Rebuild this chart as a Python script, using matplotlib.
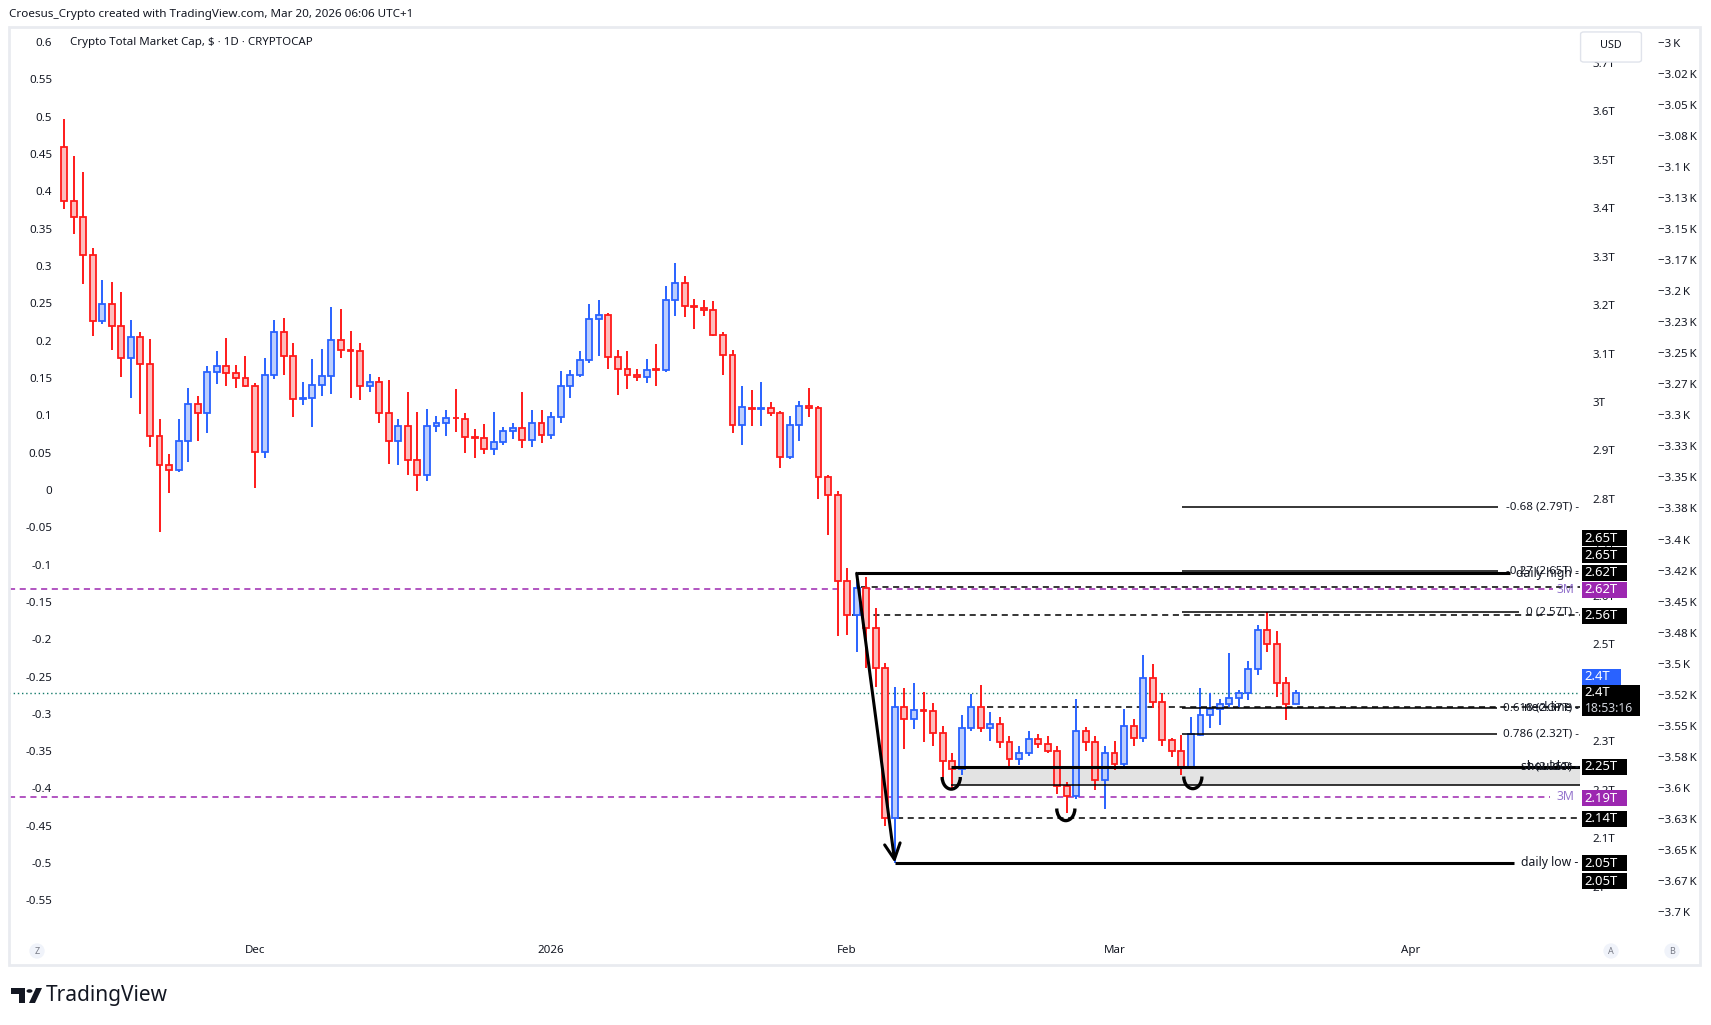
import matplotlib
matplotlib.use("Agg")
import matplotlib.pyplot as plt
import matplotlib.dates as mdates
import matplotlib.transforms as mtransforms
from matplotlib.patches import Rectangle, Arc, FancyBboxPatch, Polygon, Circle
import numpy as np
import pandas as pd

plt.rcParams["font.family"] = ["Noto Sans", "DejaVu Sans"]

# daily candles, Crypto Total Market Cap in trillions USD
dates = pd.date_range("2025-11-11", "2026-03-20", freq="D")
opens = [3.526, 3.414, 3.381, 3.303, 3.167, 3.202, 3.156, 3.090, 3.135, 3.078,
         2.929, 2.869, 2.859, 2.919, 2.995, 2.977, 3.061, 3.074, 3.059, 3.049,
         3.034, 2.896, 3.055, 3.144, 3.094, 3.006, 3.008, 3.035, 3.053, 3.129,
         3.107, 3.105, 3.032, 3.041, 2.977, 2.919, 2.950, 2.880, 2.849, 2.950,
         2.956, 2.967, 2.964, 2.928, 2.925, 2.902, 2.917, 2.941, 2.946, 2.921,
         2.956, 2.931, 2.970, 3.032, 3.055, 3.086, 3.171, 3.179, 3.092, 3.069,
         3.055, 3.051, 3.068, 3.067, 3.210, 3.245, 3.198, 3.195, 3.189, 3.138,
         3.096, 2.952, 2.988, 2.986, 2.987, 2.977, 2.886, 2.952, 2.992, 2.987,
         2.845, 2.809, 2.630, 2.560, 2.617, 2.533, 2.452, 2.141, 2.370, 2.345,
         2.364, 2.362, 2.316, 2.260, 2.242, 2.327, 2.370, 2.327, 2.336, 2.298,
         2.264, 2.276, 2.305, 2.295, 2.280, 2.208, 2.186, 2.321, 2.298, 2.219,
         2.276, 2.253, 2.332, 2.307, 2.430, 2.380, 2.302, 2.279, 2.247, 2.313,
         2.353, 2.366, 2.376, 2.390, 2.399, 2.448, 2.529, 2.500, 2.419, 2.376]
highs = [3.585, 3.508, 3.475, 3.317, 3.252, 3.248, 3.227, 3.169, 3.144, 3.130,
         2.965, 2.893, 2.965, 3.029, 3.012, 3.074, 3.105, 3.132, 3.076, 3.095,
         3.039, 3.091, 3.169, 3.173, 3.122, 3.041, 3.089, 3.109, 3.196, 3.192,
         3.147, 3.122, 3.058, 3.052, 3.045, 2.964, 3.021, 2.979, 2.986, 2.971,
         2.984, 3.027, 2.977, 2.944, 2.955, 2.979, 2.948, 2.957, 3.021, 2.983,
         2.983, 2.979, 3.064, 3.066, 3.105, 3.202, 3.210, 3.184, 3.107, 3.105,
         3.068, 3.089, 3.120, 3.239, 3.287, 3.260, 3.213, 3.211, 3.208, 3.145,
         3.107, 3.033, 3.025, 3.041, 3.000, 2.981, 2.971, 3.002, 3.029, 2.992,
         2.849, 2.816, 2.657, 2.647, 2.639, 2.574, 2.461, 2.412, 2.410, 2.420,
         2.401, 2.379, 2.332, 2.275, 2.355, 2.397, 2.415, 2.360, 2.350, 2.310,
         2.290, 2.320, 2.315, 2.310, 2.290, 2.215, 2.386, 2.330, 2.310, 2.290,
         2.300, 2.366, 2.345, 2.478, 2.459, 2.399, 2.306, 2.313, 2.350, 2.409,
         2.399, 2.387, 2.481, 2.406, 2.465, 2.540, 2.566, 2.527, 2.433, 2.406]
lows = [3.399, 3.347, 3.244, 3.137, 3.161, 3.108, 3.052, 3.009, 2.976, 2.908,
        2.732, 2.813, 2.856, 2.877, 2.920, 2.935, 3.038, 3.034, 3.028, 3.030,
        2.823, 2.885, 3.048, 3.056, 2.970, 2.993, 2.949, 3.012, 3.017, 3.090,
        3.009, 3.004, 3.020, 2.957, 2.873, 2.871, 2.849, 2.816, 2.836, 2.939,
        2.929, 2.939, 2.895, 2.885, 2.893, 2.890, 2.912, 2.924, 2.906, 2.908,
        2.916, 2.924, 2.957, 3.009, 3.052, 3.081, 3.094, 3.069, 3.015, 3.027,
        3.044, 3.040, 3.034, 3.061, 3.178, 3.176, 3.151, 3.178, 3.136, 3.056,
        2.937, 2.912, 2.951, 2.951, 2.972, 2.864, 2.883, 2.920, 2.970, 2.800,
        2.726, 2.518, 2.520, 2.485, 2.450, 2.411, 2.124, 2.048, 2.283, 2.326,
        2.299, 2.289, 2.226, 2.204, 2.231, 2.320, 2.318, 2.300, 2.285, 2.242,
        2.250, 2.270, 2.285, 2.275, 2.190, 2.152, 2.180, 2.280, 2.200, 2.159,
        2.240, 2.245, 2.290, 2.298, 2.369, 2.289, 2.268, 2.230, 2.242, 2.311,
        2.328, 2.333, 2.370, 2.370, 2.385, 2.437, 2.483, 2.392, 2.344, 2.376]
closes = [3.414, 3.381, 3.303, 3.167, 3.202, 3.156, 3.090, 3.135, 3.078, 2.929,
          2.869, 2.859, 2.919, 2.995, 2.977, 3.061, 3.074, 3.059, 3.049, 3.034,
          2.896, 3.055, 3.144, 3.094, 3.006, 3.008, 3.035, 3.053, 3.129, 3.107,
          3.106, 3.032, 3.041, 2.977, 2.919, 2.950, 2.880, 2.849, 2.950, 2.956,
          2.966, 2.966, 2.927, 2.926, 2.902, 2.917, 2.941, 2.946, 2.921, 2.956,
          2.931, 2.970, 3.032, 3.055, 3.086, 3.171, 3.179, 3.092, 3.069, 3.055,
          3.051, 3.067, 3.067, 3.210, 3.245, 3.198, 3.196, 3.189, 3.138, 3.096,
          2.952, 2.989, 2.985, 2.987, 2.977, 2.886, 2.952, 2.991, 2.987, 2.845,
          2.809, 2.630, 2.560, 2.617, 2.533, 2.452, 2.141, 2.370, 2.345, 2.364,
          2.362, 2.316, 2.260, 2.242, 2.327, 2.370, 2.327, 2.336, 2.298, 2.264,
          2.276, 2.305, 2.295, 2.280, 2.208, 2.186, 2.321, 2.298, 2.219, 2.276,
          2.253, 2.332, 2.307, 2.430, 2.380, 2.302, 2.279, 2.247, 2.314, 2.353,
          2.366, 2.376, 2.390, 2.399, 2.448, 2.529, 2.500, 2.419, 2.376, 2.399]

# drawn levels
daily_high = 2.6464
daily_low = 2.0491
fib_prices = [2.783, 2.651, 2.566, 2.368, 2.314]
fib_labels = ["-0.68 (2.79T) -", "-0.27 (2.65T) -", "0 (2.57T) -",
              "0.618 (2.37T) -", "0.786 (2.32T) -"]
fib_end = [150.2, 150.2, 152.4, 150.1, 150.0]
m3_levels = [2.6135, 2.185]
shoulder_top, shoulder_bottom = 2.2473, 2.2095
neckline = 2.370
dashed_levels = [2.6176, 2.5597, 2.1407]
dashed_start = [83.5, 82.5, 87.2]
last_price = 2.3988
smiles = [(92.9, 2.226), (104.9, 2.161), (118.2, 2.227)]

tag_prices = [2.719, 2.684, 2.648, 2.612, 2.559, 2.247, 2.182, 2.140, 2.048, 2.011]
tag_texts = ["2.65T", "2.65T", "2.62T", "2.62T", "2.56T", "2.25T", "2.19T",
             "2.14T", "2.05T", "2.05T"]
tag_colors = ["k", "k", "k", "#9c27b0", "k", "k", "#9c27b0", "k", "k", "k"]

mid_ticks = [2.0, 2.1, 2.2, 2.3, 2.4, 2.5, 2.6, 2.7, 2.8, 2.9, 3.0,
             3.1, 3.2, 3.3, 3.4, 3.5, 3.6, 3.7]
mid_labels = ["2T", "2.1T", "2.2T", "2.3T", "2.4T", "2.5T", "2.6T", "2.7T", "2.8T",
              "2.9T", "3T", "3.1T", "3.2T", "3.3T", "3.4T", "3.5T", "3.6T", "3.7T"]
left_ticks = [0.6, 0.55, 0.5, 0.45, 0.4, 0.35, 0.3, 0.25, 0.2, 0.15, 0.1, 0.05, 0,
              -0.05, -0.1, -0.15, -0.2, -0.25, -0.3, -0.35, -0.4, -0.45, -0.5, -0.55]
left_labels = ["0.6", "0.55", "0.5", "0.45", "0.4", "0.35", "0.3", "0.25", "0.2",
               "0.15", "0.1", "0.05", "0", "-0.05", "-0.1", "-0.15", "-0.2", "-0.25",
               "-0.3", "-0.35", "-0.4", "-0.45", "-0.5", "-0.55"]
k_labels = ["3", "3.02", "3.05", "3.08", "3.1", "3.13", "3.15", "3.17", "3.2", "3.23",
            "3.25", "3.27", "3.3", "3.33", "3.35", "3.38", "3.4", "3.42", "3.45",
            "3.48", "3.5", "3.52", "3.55", "3.58", "3.6", "3.63", "3.65", "3.67", "3.7"]

W, H = 1711, 1025
TXT = "#131722"
fig = plt.figure(figsize=(W / 100, H / 100), dpi=100)
fig.patch.set_facecolor("white")


def fx(px):
    return px / W


def fy(py):
    return 1 - py / H


ax = fig.add_axes([fx(9), fy(935), fx(1580) - fx(9), (935 - 27) / H])
x = mdates.date2num(dates)
x0 = x[0]
o = np.array(opens); c = np.array(closes); hi = np.array(highs); lo = np.array(lows)
up = c >= o
edge = np.where(up, "#2962ff", "#ff1a1a")
fill = np.where(up, "#bccefd", "#fdbdbd")

ax.vlines(x, lo, hi, colors=edge, lw=1.4, zorder=3)
ax.bar(x, np.maximum(np.abs(c - o), 0.002), bottom=np.minimum(o, c), width=0.62,
       color=fill, edgecolor=edge, linewidth=1.3, zorder=4)

xmin, xmax = x0 - 5.76, x0 + 158.74
ax.set_xlim(xmin, xmax)
ax.set_ylim(1.8999, 3.774)

# horizontal levels
ax.hlines(m3_levels[0], xmin, x0 + 155.9, colors="#9c27b0", lw=1.1, linestyles=(0, (4, 3)), zorder=2)
ax.hlines(m3_levels[1], xmin, x0 + 155.6, colors="#9c27b0", lw=1.1, linestyles=(0, (4, 3)), zorder=2)
ax.hlines(last_price, xmin, xmax, colors="#137a6a", lw=1.0, linestyles=(0, (1, 2)), zorder=2)
for lvl, st in zip(dashed_levels, dashed_start):
    ax.hlines(lvl, x0 + st, xmax, colors="black", lw=1.1, linestyles=(0, (4, 3)), zorder=2)
ax.hlines(neckline, x0 + 96.6, xmax, colors="black", lw=1.1, linestyles=(0, (4, 3)), zorder=2)
ax.hlines(daily_high, x0 + 83, x0 + 151.4, colors="black", lw=2.2, zorder=5)
ax.hlines(daily_low, x0 + 87, x0 + 151.8, colors="black", lw=2.2, zorder=5)
for p, e in zip(fib_prices, fib_end):
    ax.hlines(p, x0 + 117.1, x0 + e, colors="black", lw=1.1, zorder=5)

ax.add_patch(Rectangle((x0 + 92.9, shoulder_bottom), xmax - x0 - 92.9,
                       shoulder_top - shoulder_bottom, facecolor="#e3e3e3",
                       edgecolor="none", zorder=1))
ax.hlines(shoulder_top, x0 + 92.9, xmax, colors="black", lw=2.2, zorder=5)
ax.hlines(shoulder_bottom, x0 + 92.9, xmax, colors="black", lw=1.1, zorder=5)

ax.annotate("", xy=(x0 + 87, daily_low), xytext=(x0 + 83, daily_high),
            arrowprops=dict(arrowstyle="->", lw=2.2, color="black",
                            mutation_scale=28, shrinkA=0, shrinkB=0), zorder=6)
for sx, sy in smiles:
    ax.add_patch(Arc((x0 + sx, sy), 1.9, 0.05, theta1=180, theta2=360,
                     lw=2.4, color="black", zorder=6))

# level labels
lab_x = x0 + 158.6
for p, t in zip(fib_prices, fib_labels):
    ax.text(lab_x, p, t, ha="right", va="center", fontsize=8.3, color=TXT, zorder=7)
ax.text(lab_x, shoulder_top, "1 (2.25T) -", ha="right", va="center", fontsize=8.3, color=TXT, zorder=7)
ax.text(lab_x, daily_high, "daily high -", ha="right", va="center", fontsize=8.8, color=TXT, zorder=7)
ax.text(lab_x, daily_low, "daily low -", ha="right", va="center", fontsize=8.8, color=TXT, zorder=7)
ax.text(lab_x, neckline, "neckline -", ha="right", va="center", fontsize=8.8, color=TXT, zorder=7)
ax.text(lab_x, shoulder_top, "shoulder -", ha="right", va="center", fontsize=8.8, color=TXT, zorder=7)
for m in m3_levels:
    ax.text(x0 + 158.2, m, "3M", ha="right", va="center", fontsize=8.8, color="#9575cd", zorder=7)

# x axis (dates)
ax.set_xticks(mdates.date2num(pd.to_datetime(["2025-12-01", "2026-01-01", "2026-02-01",
                                              "2026-03-01", "2026-04-01"])))
ax.set_xticklabels(["Dec", "2026", "Feb", "Mar", "Apr"])
ax.tick_params(axis="x", length=0, pad=7, labelsize=8.3, labelcolor=TXT)
ax.get_xticklabels()[1].set_fontweight("bold")
for s in ax.spines.values():
    s.set_visible(False)

# left scale
ax2 = ax.twinx()
ax2.set_ylim((1.8999 - 2.8185) / 1.5405, (3.774 - 2.8185) / 1.5405)
ax2.yaxis.tick_left()
ax2.set_yticks(left_ticks)
ax2.set_yticklabels(left_labels)
ax2.tick_params(axis="y", length=0, pad=-31, labelsize=8.3, labelcolor=TXT)
ax2.patch.set_visible(False)
for s in ax2.spines.values():
    s.set_visible(False)

# far right scale
ax3 = ax.twinx()
ax3.set_ylim((1.8999 - 3.7419) / 2.5644 - 3, (3.774 - 3.7419) / 2.5644 - 3)
ax3.set_yticks(-3 - 0.025 * np.arange(len(k_labels)))
ax3.set_yticklabels(["\u2212" + k + "\u2009K" for k in k_labels])
ax3.tick_params(axis="y", length=0, pad=56, labelsize=8.3, labelcolor=TXT)
ax3.patch.set_visible(False)
for s in ax3.spines.values():
    s.set_visible(False)

# middle price scale (set after twinx, which moves ticks of ax to the left)
ax.yaxis.tick_right()
ax.set_yticks(mid_ticks)
ax.set_yticklabels(mid_labels)
ax.tick_params(axis="y", length=0, pad=9.2, labelsize=8.3, labelcolor=TXT,
               labelleft=False, labelright=True)

# price tags on the scale
blend = mtransforms.blended_transform_factory(fig.transFigure, ax.transData)
th = 16 / 484.5


def tag(p, text, color, w=45):
    ax.add_patch(Rectangle((fx(1582), p - th / 2), w / W, th, transform=blend,
                           facecolor=color, edgecolor="none", clip_on=False, zorder=8))
    ax.text(fx(1584.5), p, text, transform=blend, ha="left", va="center", fontsize=9.4,
            color="white", fontweight="bold", clip_on=False, zorder=9)


for p, t, col in zip(tag_prices, tag_texts, tag_colors):
    tag(p, t, col)
tag(2.433, "2.4T", "#2962ff", w=39)
ax.add_patch(Rectangle((fx(1582), 2.384 - 0.032), 58 / W, 0.064, transform=blend,
                       facecolor="black", edgecolor="none", clip_on=False, zorder=8))
ax.text(fx(1584.5), 2.400, "2.4T", transform=blend, ha="left", va="center", fontsize=9.4,
        color="white", fontweight="bold", clip_on=False, zorder=9)
ax.text(fx(1584.5), 2.368, "18:53:16", transform=blend, ha="left", va="center", fontsize=8.8,
        color="#d1d4dc", fontweight="bold", clip_on=False, zorder=9)

# frame, header, badges
fig.patches.append(Rectangle((fx(9), fy(965)), (1700 - 9) / W, (965 - 27) / H,
                             transform=fig.transFigure, fill=False,
                             edgecolor="#e9ebf0", lw=2))
fig.patches.append(FancyBboxPatch((fx(1584), fy(60)), 54 / W, 26 / H,
                                  boxstyle="round,pad=0.002", transform=fig.transFigure,
                                  facecolor="white", edgecolor="#e0e3eb", lw=1, zorder=10))
fig.text(fx(1611), fy(46), "USD", ha="center", va="center", fontsize=7.8, color=TXT, zorder=11)
fig.text(fx(9), fy(14), "Croesus_Crypto created with TradingView.com, Mar 20, 2026 06:06 UTC+1",
         ha="left", va="center", fontsize=8.4, color=TXT)
fig.text(fx(70), fy(43), "Crypto Total Market Cap, $ \u00b7 1D \u00b7 CRYPTOCAP",
         ha="left", va="center", fontsize=8.3, color=TXT)
for bx, lt in [(37, "Z"), (1611, "A"), (1672, "B")]:
    fig.text(fx(bx), fy(951), lt, ha="center", va="center", fontsize=6.5, color="#787b86",
             bbox=dict(boxstyle="circle,pad=0.35", facecolor="#f0f3fa", edgecolor="none"))

# TradingView logo
fig.patches.append(Polygon([(fx(11), fy(988)), (fx(25), fy(988)), (fx(25), fy(1003)),
                            (fx(19), fy(1003)), (fx(19), fy(994)), (fx(11), fy(994))],
                           closed=True, transform=fig.transFigure, facecolor="#131722"))
fig.patches.append(Circle((fx(29.5), fy(991)), 3 / W, transform=fig.transFigure,
                          facecolor="#131722"))
fig.patches.append(Polygon([(fx(36), fy(988)), (fx(42), fy(988)), (fx(35), fy(1003)),
                            (fx(29), fy(1003))], closed=True, transform=fig.transFigure,
                           facecolor="#131722"))
fig.text(fx(46), fy(996), "TradingView", ha="left", va="center", fontsize=15,
         fontweight="bold", color="#131722")

fig.savefig("out.png", dpi=100, facecolor="white")
